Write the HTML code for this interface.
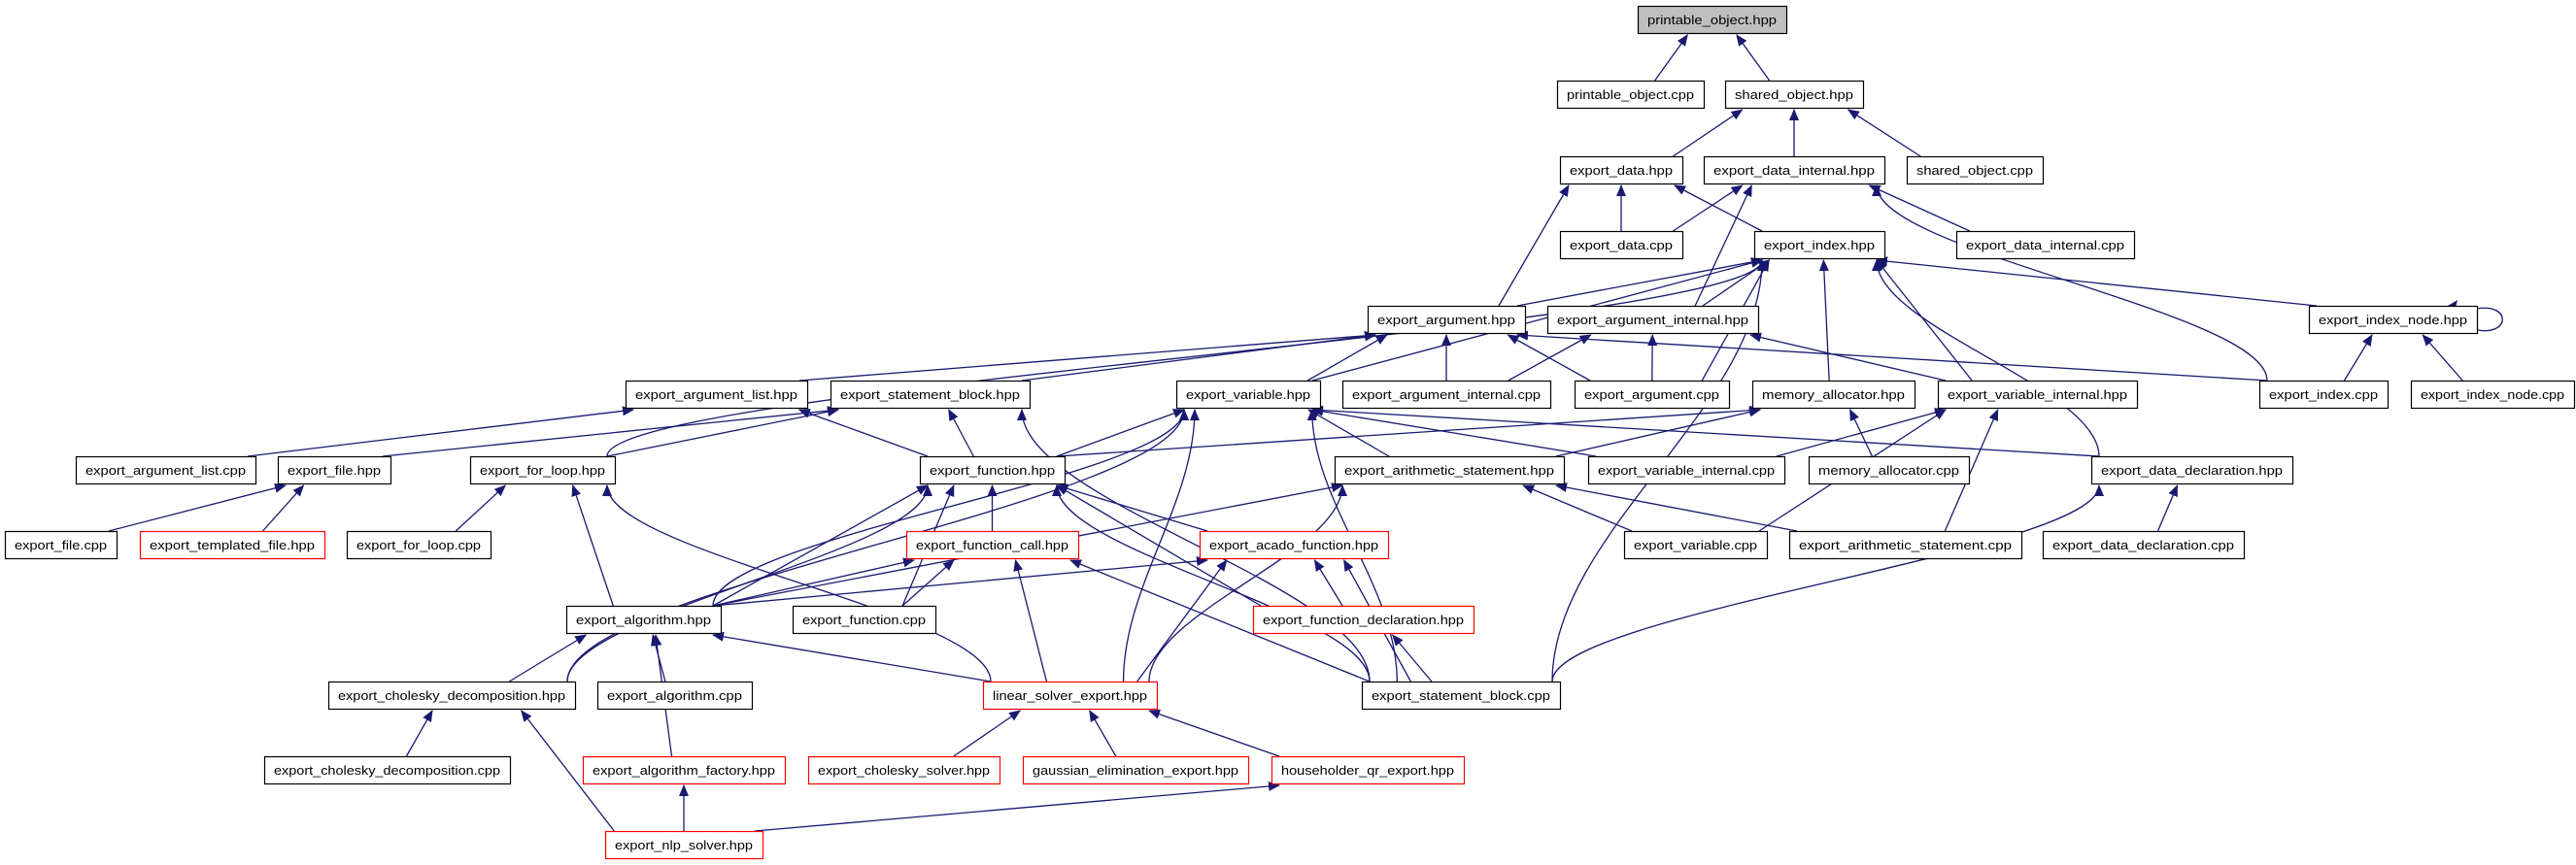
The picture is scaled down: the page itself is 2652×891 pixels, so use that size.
<!DOCTYPE html>
<html><head><meta charset="utf-8"><style>
html,body{margin:0;padding:0;background:#fff;}
svg{display:block;}
text{font-family:"Liberation Sans",sans-serif;font-size:13px;fill:#000;}
</style></head><body>
<svg id="g" xmlns="http://www.w3.org/2000/svg" width="2652" height="891" viewBox="0 0 2652 891">
<defs><marker id="ah" markerWidth="12" markerHeight="10" refX="11" refY="5" orient="auto" markerUnits="userSpaceOnUse"><path d="M0,0 L12,5 L0,10 z" fill="#191970"/></marker></defs>
<g id="edges" stroke="#191970" stroke-width="1.3" fill="none"></g>
<path d="M2550,318 C2585,312 2585,346 2550,340" stroke="#191970" stroke-width="1.3" fill="none"/>
<path d="M2520,315 l10,-6 l-2,8 z" fill="#191970"/>
<g id="nodes"></g>
</svg>
<div style="display:none" id="labels">
printable_object.hpp printable_object.cpp shared_object.hpp export_data.hpp export_data_internal.hpp shared_object.cpp export_data.cpp export_index.hpp export_data_internal.cpp export_argument.hpp export_argument_internal.hpp export_index_node.hpp export_argument_list.hpp export_statement_block.hpp export_variable.hpp export_argument_internal.cpp export_argument.cpp memory_allocator.hpp export_variable_internal.hpp export_index.cpp export_index_node.cpp export_argument_list.cpp export_file.hpp export_for_loop.hpp export_function.hpp export_arithmetic_statement.hpp export_variable_internal.cpp memory_allocator.cpp export_data_declaration.hpp export_file.cpp export_templated_file.hpp export_for_loop.cpp export_function_call.hpp export_acado_function.hpp export_variable.cpp export_arithmetic_statement.cpp export_data_declaration.cpp export_algorithm.hpp export_function.cpp export_function_declaration.hpp export_cholesky_decomposition.hpp export_algorithm.cpp linear_solver_export.hpp export_statement_block.cpp export_cholesky_decomposition.cpp export_algorithm_factory.hpp export_cholesky_solver.hpp gaussian_elimination_export.hpp householder_qr_export.hpp export_nlp_solver.hpp
</div>
<script>
var R=[6,83,161,238,315,392,470,547,624,702,779,856];
var N={
A:["printable_object.hpp",1686,1839,0,"g"],
B:["printable_object.cpp",1603,1754,1],
C:["shared_object.hpp",1776,1918,1],
D:["export_data.hpp",1606,1732,2],
E:["export_data_internal.hpp",1754,1940,2],
F:["shared_object.cpp",1963,2103,2],
G:["export_data.cpp",1606,1732,3],
H:["export_index.hpp",1806,1940,3],
I:["export_data_internal.cpp",2014,2197,3],
J:["export_argument.hpp",1408,1570,4],
K:["export_argument_internal.hpp",1593,1810,4],
L:["export_index_node.hpp",2377,2550,4],
M:["export_argument_list.hpp",644,831,5],
Nn:["export_statement_block.hpp",855,1060,5],
O:["export_variable.hpp",1211,1359,5],
P:["export_argument_internal.cpp",1382,1596,5],
Q:["export_argument.cpp",1621,1780,5],
Rr:["memory_allocator.hpp",1804,1971,5],
S:["export_variable_internal.hpp",1995,2200,5],
T:["export_index.cpp",2326,2458,5],
U:["export_index_node.cpp",2482,2650,5],
V:["export_argument_list.cpp",78,263,6],
W:["export_file.hpp",286,402,6],
X:["export_for_loop.hpp",484,633,6],
Y:["export_function.hpp",947,1096,6],
Z:["export_arithmetic_statement.hpp",1374,1610,6],
AA:["export_variable_internal.cpp",1635,1837,6],
AB:["memory_allocator.cpp",1862,2027,6],
AC:["export_data_declaration.hpp",2153,2360,6],
AD:["export_file.cpp",5,120,7],
AE:["export_templated_file.hpp",144,334,7,"r"],
AF:["export_for_loop.cpp",357,505,7],
AG:["export_function_call.hpp",933,1110,7,"r"],
AH:["export_acado_function.hpp",1235,1429,7,"r"],
AI:["export_variable.cpp",1672,1819,7],
AJ:["export_arithmetic_statement.cpp",1842,2081,7],
AK:["export_data_declaration.cpp",2103,2310,7],
AL:["export_algorithm.hpp",583,742,8],
AM:["export_function.cpp",816,963,8],
AN:["export_function_declaration.hpp",1290,1517,8,"r"],
AO:["export_cholesky_decomposition.hpp",338,592,9],
AP:["export_algorithm.cpp",615,774,9],
AQ:["linear_solver_export.hpp",1012,1191,9,"r"],
AR:["export_statement_block.cpp",1402,1606,9],
AS:["export_cholesky_decomposition.cpp",272,525,10],
AT:["export_algorithm_factory.hpp",600,808,10,"r"],
AU:["export_cholesky_solver.hpp",832,1029,10,"r"],
AV:["gaussian_elimination_export.hpp",1053,1285,10,"r"],
AW:["householder_qr_export.hpp",1309,1507,10,"r"],
AX:["export_nlp_solver.hpp",623,785,11,"r"]
};
var E="B-A C-A D-C E-C F-C G-D G-E H-D I-E T-E J-D K-E J-H K-H X-H O-H Q-H Rr-H S-H AC-H AR-H L-H T-L U-L T-J M-J Nn-J O-J P-J Q-J P-K Q-K S-K Y-M V-M W-Nn X-Nn Y-Nn AR-Nn Y-O AL-O AO-O Z-O AQ-O AR-O AA-O AC-O Y-Rr Z-Rr AB-Rr AA-S AI-S AJ-S AD-W AE-W AF-X AL-X AQ-X AG-Y AH-Y AL-Y AO-Y AM-Y AN-Y AR-Y AI-Z AJ-Z AQ-Z AL-Z AK-AC AR-AC AL-AG AM-AG AQ-AG AR-AG AL-AH AQ-AH AN-AH AR-AH AR-AN AO-AL AP-AL AT-AL AQ-AL AS-AO AX-AO AU-AQ AV-AQ AW-AQ AX-AT AX-AW".split(" ");
var ns="http://www.w3.org/2000/svg";
function el(t,a,p){var e=document.createElementNS(ns,t);for(var k in a)e.setAttribute(k,a[k]);p.appendChild(e);return e;}
var eg=document.getElementById("edges"),ng=document.getElementById("nodes");
function cl(v,a,b){return Math.max(a,Math.min(b,v));}
E.forEach(function(s){var p=s.split("-"),c=N[p[0]],q=N[p[1]];
 var ccx=(c[1]+c[2])/2,pcx=(q[1]+q[2])/2;
 var cy=R[c[3]],py=R[q[3]]+28;
 var px,cx;
 px=pcx+cl((ccx-pcx)*0.3,-(q[2]-q[1])/2+8,(q[2]-q[1])/2-8);
 cx=ccx+cl((pcx-ccx)*0.3,-(c[2]-c[1])/2+8,(c[2]-c[1])/2-8);
 var dy=cy-py;
 var d;
 if(dy>170){d="M"+cx+","+cy+" C"+cx+","+(cy-dy*0.35)+" "+px+","+(py+dy*0.35)+" "+px+","+(py+2);}
 else d="M"+cx+","+cy+" L"+px+","+(py+2);
 el("path",{d:d,"marker-end":"url(#ah)"},eg);
});
for(var k in N){var n=N[k],y=R[n[3]],w=n[2]-n[1];
 el("rect",{x:n[1]+0.5,y:y+0.5,width:w,height:28,fill:n[4]==="g"?"#bfbfbf":"#fff",stroke:n[4]==="r"?"#ff0000":"#000","stroke-width":1.2},ng);
 var t=el("text",{x:n[1]+w/2,y:y+19,"text-anchor":"middle",textLength:w-20,lengthAdjust:"spacingAndGlyphs"},ng);
 t.textContent=n[0];}
document.getElementById("labels").remove();
</script>
</body></html>
